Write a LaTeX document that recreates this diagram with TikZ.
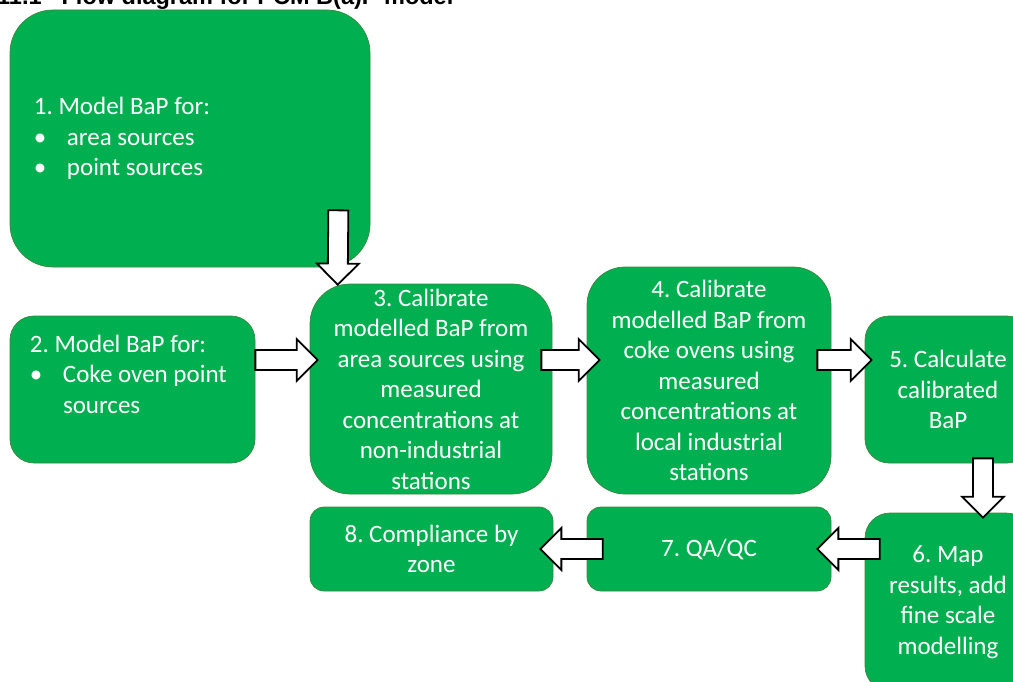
\documentclass[tikz,border=0pt]{standalone}
\usepackage{fontspec}
\setmainfont{Carlito}
\newfontfamily\titlefont{Liberation Sans}
\usepackage{tikz}
\usetikzlibrary{calc}
\definecolor{boxgreen}{RGB}{0,176,80}
\definecolor{boxedge}{RGB}{58,135,60}
\newcommand{\normspace}{\spaceskip=0pt\xspaceskip=0pt\relax}
\frenchspacing

\begin{document}
\begin{tikzpicture}[x=1pt,y=-1pt,
    stepbox/.style={draw=boxedge,line width=0.7pt,fill=boxgreen,text=white,inner sep=0pt,
      font=\fontsize{25}{30.5}\selectfont,align=center},
    flow/.style={draw=black,line width=1.8pt,fill=white,line join=miter},
    blockto/.style={to path={
      -- ($(\tikztostart)!10pt!90:(\tikztotarget)$)
      -- ($($(\tikztotarget)!21pt!(\tikztostart)$)!10pt!-90:(\tikztostart)$)
      -- ($($(\tikztotarget)!21pt!(\tikztostart)$)!21pt!-90:(\tikztostart)$)
      -- (\tikztotarget)
      -- ($($(\tikztotarget)!21pt!(\tikztostart)$)!21pt!90:(\tikztostart)$)
      -- ($($(\tikztotarget)!21pt!(\tikztostart)$)!10pt!90:(\tikztostart)$)
      -- ($(\tikztostart)!10pt!-90:(\tikztotarget)$)
      -- cycle}}]
    \useasboundingbox (0,0) rectangle (1013,682);
    \clip (0,0) rectangle (1013,682);

    % Title, cut off at the top
    \node[anchor=base west,inner sep=0pt,font=\titlefont\bfseries\fontsize{23.5}{28}\selectfont] (title) at (-3,5)
      {11.1\hspace{20pt}Flow diagram for PCM B(a)P model};

    % Modelling steps
    \node[stepbox,minimum width=360pt,minimum height=257pt,rounded corners=43pt,
      text width=312pt,align=left] (model1) at (190,138.5)
      {\normspace 1. Model BaP for:\\\makebox[33pt][l]{\textbullet}area sources\\\makebox[33pt][l]{\textbullet}point sources};
    \node[stepbox,minimum width=245pt,minimum height=147pt,rounded corners=24pt,
      text width=205pt,align=left] (model2) at (132.5,389.5)
      {\normspace 2. Model BaP for:\\\makebox[33pt][l]{\textbullet}Coke oven point\\\hspace*{33pt}sources\\\mbox{}};

    % Calibration steps
    \node[stepbox,minimum width=242pt,minimum height=210pt,rounded corners=40pt] (calib3) at (431,389)
      {3. Calibrate\\modelled BaP from\\area sources using\\measured\\concentrations at\\non-industrial\\stations};
    \node[stepbox,minimum width=244pt,minimum height=227pt,rounded corners=38pt] (calib4) at (709,380.5)
      {4. Calibrate\\modelled BaP from\\coke ovens using\\measured\\concentrations at\\local industrial\\stations};
    \node[stepbox,minimum width=166pt,minimum height=147pt,rounded corners=24pt] (calc5) at (948,389.5)
      {5. Calculate\\calibrated\\BaP};

    % Output steps
    \node[stepbox,minimum width=166pt,minimum height=178pt,rounded corners=25pt] (map6) at (948,602)
      {6. Map\\results, add\\fine scale\\modelling};
    \node[stepbox,minimum width=244pt,minimum height=84pt,rounded corners=14pt] (qaqc7) at (709,549)
      {7. QA/QC};
    \node[stepbox,minimum width=243pt,minimum height=84pt,rounded corners=14pt] (comply8) at (431.5,549)
      {8. Compliance by\\zone};

    % Block arrows
    \draw[flow] ($(model1.south east)+(-32,-57)$) to[blockto] ($(calib3.north west)+(28,1)$);
    \draw[flow] ($(model2.east)+(0,-29.5)$) to[blockto] ($(calib3.west)+(8,-29)$);
    \draw[flow] ($(calib3.east)+(-11,-29)$) to[blockto] ($(calib4.west)+(13,-20.5)$);
    \draw[flow] ($(calib4.east)+(-14,-20.5)$) to[blockto] ($(calc5.west)+(7,-29.5)$);
    \draw[flow] ($(calc5.south)+(35,-5)$) to[blockto] ($(map6.north)+(35,5)$);
    \draw[flow] ($(map6.west)+(15,-53)$) to[blockto] ($(qaqc7.east)+(-14,0)$);
    \draw[flow] ($(qaqc7.west)+(16,0)$) to[blockto] ($(comply8.east)+(-13,0)$);
\end{tikzpicture}
\end{document}
